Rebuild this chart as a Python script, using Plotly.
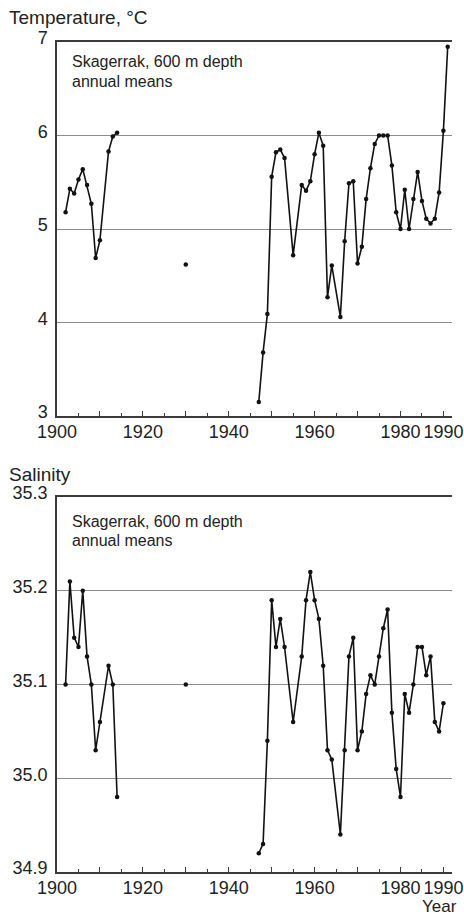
import plotly.graph_objects as go

# ---------------- data ----------------
temp_years_early = [1902, 1903, 1904, 1905, 1906, 1907, 1908, 1909, 1910, 1912, 1913, 1914]
temp_early = [5.18, 5.43, 5.38, 5.53, 5.64, 5.47, 5.27, 4.69, 4.88, 5.83, 5.99, 6.03]
temp_year_single = [1930]
temp_single = [4.62]
temp_years_late = [1947, 1948, 1949, 1950, 1951, 1952, 1953, 1955, 1957, 1958, 1959, 1960,
                   1961, 1962, 1963, 1964, 1966, 1967, 1968, 1969, 1970, 1971, 1972, 1973,
                   1974, 1975, 1976, 1977, 1978, 1979, 1980, 1981, 1982, 1983, 1984, 1985,
                   1986, 1987, 1988, 1989, 1990, 1991]
temp_late = [3.15, 3.68, 4.09, 5.56, 5.82, 5.85, 5.76, 4.72, 5.47, 5.41, 5.51, 5.80,
             6.03, 5.89, 4.27, 4.61, 4.06, 4.87, 5.49, 5.51, 4.63, 4.81, 5.32, 5.65,
             5.91, 6.00, 6.00, 6.00, 5.68, 5.18, 5.00, 5.42, 5.00, 5.32, 5.61, 5.30,
             5.11, 5.06, 5.11, 5.39, 6.05, 6.95]

sal_years_early = [1902, 1903, 1904, 1905, 1906, 1907, 1908, 1909, 1910, 1912, 1913, 1914]
sal_early = [35.10, 35.21, 35.15, 35.14, 35.20, 35.13, 35.10, 35.03, 35.06, 35.12, 35.10, 34.98]
sal_year_single = [1930]
sal_single = [35.10]
sal_years_late = [1947, 1948, 1949, 1950, 1951, 1952, 1953, 1955, 1957, 1958, 1959, 1960,
                  1961, 1962, 1963, 1964, 1966, 1967, 1968, 1969, 1970, 1971, 1972, 1973,
                  1974, 1975, 1976, 1977, 1978, 1979, 1980, 1981, 1982, 1983, 1984, 1985,
                  1986, 1987, 1988, 1989, 1990]
sal_late = [34.92, 34.93, 35.04, 35.19, 35.14, 35.17, 35.14, 35.06, 35.13, 35.19, 35.22, 35.19,
            35.17, 35.12, 35.03, 35.02, 34.94, 35.03, 35.13, 35.15, 35.03, 35.05, 35.09, 35.11,
            35.10, 35.13, 35.16, 35.18, 35.07, 35.01, 34.98, 35.09, 35.07, 35.10, 35.14, 35.14,
            35.11, 35.13, 35.06, 35.05, 35.08]

x_tickvals = [1900, 1910, 1920, 1930, 1940, 1950, 1960, 1970, 1980, 1990]
x_ticktext = ["1900", "", "1920", "", "1940", "", "1960", "", "1980", "1990"]
x_minor = [1905, 1915, 1925, 1935, 1945, 1955, 1965, 1975, 1985]
temp_ticks = [3, 4, 5, 6, 7]
sal_ticks = [34.9, 35.0, 35.1, 35.2, 35.3]

# ---------------- figure ----------------
FONT = "Liberation Sans, Arial, Helvetica, sans-serif"
TXT = "#222222"
AX = "#3a3a3a"
GRID = "#8c8c8c"


def join(*parts):
    xs, ys = [], []
    for i, (px_, py_) in enumerate(parts):
        if i:
            xs.append(None)
            ys.append(None)
        xs.extend(px_)
        ys.extend(py_)
    return xs, ys


fig = go.Figure()
tx, ty = join((temp_years_early, temp_early), (temp_year_single, temp_single),
              (temp_years_late, temp_late))
sx, sy = join((sal_years_early, sal_early), (sal_year_single, sal_single),
              (sal_years_late, sal_late))

line_style = dict(color="#111111", width=1.6)
marker_style = dict(color="#111111", size=4.5, symbol="circle")

fig.add_trace(go.Scatter(x=tx, y=ty, mode="lines+markers", line=line_style,
                         marker=marker_style, connectgaps=False, xaxis="x", yaxis="y",
                         showlegend=False, hoverinfo="x+y"))
fig.add_trace(go.Scatter(x=sx, y=sy, mode="lines+markers", line=line_style,
                         marker=marker_style, connectgaps=False, xaxis="x2", yaxis="y2",
                         showlegend=False, hoverinfo="x+y"))

H_PLOT_TOP, H_PLOT_BOT = 42, 872
PH = H_PLOT_BOT - H_PLOT_TOP
L, PW = 57, 395


def py(p):
    return (H_PLOT_BOT - p) / PH


def px(p):
    return (p - L) / PW


xcommon = dict(range=[1900, 1992], showgrid=False, zeroline=False, automargin=False,
               showline=True, linecolor=AX, linewidth=1.5, mirror=True,
               tickmode="array", tickvals=x_tickvals, ticktext=x_ticktext,
               ticks="inside", ticklen=5, tickwidth=1.2, tickcolor=AX,
               ticklabelstandoff=-1,
               minor=dict(tickvals=x_minor, ticks="inside", ticklen=3, tickwidth=1.2, tickcolor=AX),
               tickfont=dict(family=FONT, size=18, color=TXT), fixedrange=True)
ycommon = dict(showgrid=True, gridcolor=GRID, gridwidth=1.2, zeroline=False, automargin=False,
               showline=True, linecolor=AX, linewidth=1.5, ticks="",
               ticklabelstandoff=4, ticklabelshift=-4,
               tickfont=dict(family=FONT, size=18, color=TXT), fixedrange=True)

fig.update_layout(
    width=464, height=916, autosize=False,
    margin=dict(l=L, r=464 - L - PW, t=H_PLOT_TOP, b=916 - H_PLOT_BOT, pad=0, autoexpand=False),
    paper_bgcolor="white", plot_bgcolor="white",
    xaxis=dict(anchor="y", domain=[0, 1], **xcommon),
    yaxis=dict(anchor="x", domain=[py(416), 1], range=[3, 7],
               tickmode="array", tickvals=temp_ticks, **ycommon),
    xaxis2=dict(anchor="y2", domain=[0, 1], **xcommon),
    yaxis2=dict(anchor="x2", domain=[0, py(497)], range=[34.9, 35.3],
                tickmode="array", tickvals=sal_ticks, tickformat=".1f", **ycommon),
)

ann_font = dict(family=FONT, size=16, color=TXT)
title_font = dict(family=FONT, size=19, color=TXT)
annots = [
    dict(text="Temperature, °C", x=px(8), y=py(17), font=title_font),
    dict(text="Salinity", x=px(8), y=py(474), font=title_font),
    dict(text="Skagerrak, 600 m depth", x=px(71), y=py(62), font=ann_font),
    dict(text="annual means", x=px(71), y=py(81), font=ann_font),
    dict(text="Skagerrak, 600 m depth", x=px(71), y=py(521), font=ann_font),
    dict(text="annual means", x=px(71), y=py(540), font=ann_font),
]
for a in annots:
    fig.add_annotation(xref="paper", yref="paper", xanchor="left", yanchor="middle",
                       showarrow=False, borderpad=0, **a)
fig.add_annotation(text="Year", xref="paper", yref="paper", x=px(458), y=py(906),
                   xanchor="right", yanchor="middle", showarrow=False, borderpad=0,
                   font=dict(family=FONT, size=17, color=TXT))

fig.write_html("out.html")
